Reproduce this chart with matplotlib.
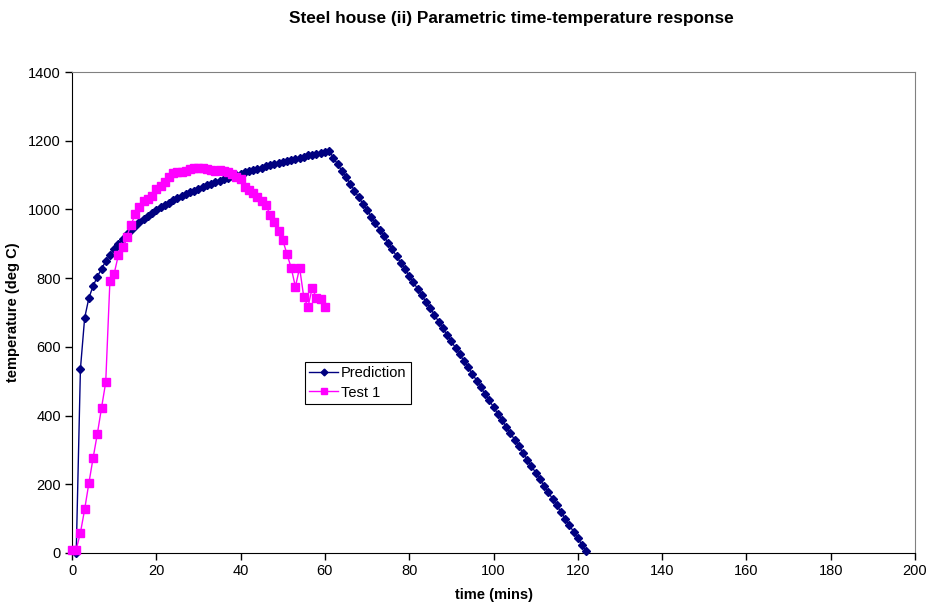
import matplotlib.pyplot as plt
import numpy as np

# Prediction (parametric curve), one point per minute from t = 1
pred_time = np.arange(1, 123)
pred_temp = [
    0, 536, 684, 742, 777, 804, 827, 849, 867, 885,
    900, 915, 928, 940, 952, 962, 972, 981, 990, 998,
    1006, 1013, 1020, 1027, 1033, 1039, 1045, 1050, 1055, 1060,
    1065, 1070, 1075, 1079, 1084, 1088, 1092, 1096, 1100, 1104,
    1108, 1111, 1115, 1119, 1122, 1126, 1129, 1132, 1135, 1139,
    1142, 1145, 1148, 1151, 1154, 1157, 1159, 1162, 1165, 1168,
    1170,
    1151, 1132, 1113, 1094, 1075, 1055, 1036, 1017, 998, 979,
    960, 941, 922, 903, 884, 864, 845, 826, 807, 788,
    769, 750, 731, 712, 693, 673, 654, 635, 616, 597,
    578, 559, 540, 521, 502, 482, 463, 444, 425, 406,
    387, 368, 349, 330, 311, 291, 272, 253, 234, 215,
    196, 177, 158, 139, 120, 100, 81, 62, 43, 24,
    5,
]

# Test 1 measurements, one per minute from t = 0
test_time = np.arange(0, 61)
test_temp = [
    10, 10, 59, 127, 203, 276, 346, 422, 497, 793,
    813, 867, 891, 921, 955, 986, 1008, 1025, 1030, 1040,
    1059, 1069, 1081, 1093, 1105, 1108, 1110, 1113, 1117, 1120,
    1122, 1122, 1117, 1115, 1113, 1115, 1113, 1110, 1103, 1095,
    1088, 1066, 1058, 1049, 1037, 1025, 1013, 984, 964, 937,
    911, 870, 830, 775, 830, 744, 717, 772, 741, 738,
    717,
]

plt.rcParams["font.family"] = ["Liberation Sans", "DejaVu Sans"]

fig = plt.figure(figsize=(9.3, 6.1), dpi=100)
ax = fig.add_axes([72 / 930, 1 - 553 / 610, 843 / 930, 481 / 610])

ax.plot(pred_time, pred_temp, color="#000080", lw=1, marker="D", ms=4.3,
        label="Prediction", clip_on=False, zorder=3)
ax.plot(test_time, test_temp, color="#FF00FF", lw=1, marker="s", ms=5.5,
        label="Test 1", clip_on=False, zorder=4)

ax.set_xlim(0, 200)
ax.set_ylim(0, 1400)
ax.set_xticks(np.arange(0, 201, 20))
ax.set_yticks(np.arange(0, 1401, 200))
ax.tick_params(direction="out", length=5, width=1, labelsize=10.5, pad=3)
for side in ["top", "right"]:
    ax.spines[side].set_color("#808080")

ax.set_xlabel("time (mins)", fontsize=10.5, fontweight="bold", labelpad=7)
ax.set_ylabel("temperature (deg C)", fontsize=10.5, fontweight="bold", labelpad=6)
fig.text(511 / 930, 1 - 18 / 610, "Steel house (ii) Parametric time-temperature response",
         ha="center", va="center", fontsize=12.4, fontweight="bold")

leg = ax.legend(loc="upper left", bbox_to_anchor=(0.276, 0.397), borderaxespad=0,
                fontsize=10.5, markerscale=0.8, fancybox=False, framealpha=1,
                edgecolor="black", borderpad=0.3, handlelength=2.0,
                handletextpad=0.2, labelspacing=0.35)
leg.get_frame().set_linewidth(0.8)

fig.savefig("out.png", dpi=100)
